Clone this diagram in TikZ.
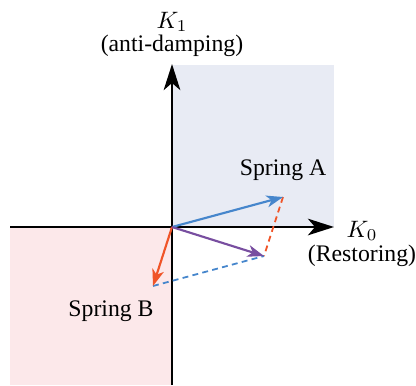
\documentclass[tikz,border=0pt]{standalone}
\usepackage{fontspec}
\setmainfont{Liberation Serif}
\usetikzlibrary{arrows.meta}
\usepackage{amsmath}
\usepackage{xcolor}

\definecolor{quadblue}{RGB}{232,235,244}
\definecolor{quadpink}{RGB}{252,232,234}
\definecolor{springa}{RGB}{70,134,204}
\definecolor{springb}{RGB}{240,84,40}
\definecolor{springsum}{RGB}{120,78,160}

\begin{document}
\begin{tikzpicture}[x=0.0148cm, y=-0.0148cm, font=\fontsize{10}{12}\selectfont]
\tikzstyle{axis} = [line width=0.9pt, -{Stealth[length=11pt, width=7pt, inset=3pt]}]
\tikzstyle{vec} = [line width=0.9pt, -{Stealth[length=7pt, width=5pt, inset=2pt]}]
\tikzstyle{guide} = [line width=0.75pt, dash pattern=on 2.5pt off 1.8pt]
\tikzstyle{lbl} = [inner sep=1pt]

\useasboundingbox (0,0) rectangle (416,385);

% quadrants
\fill [quadblue] (172,65) rectangle (334,227);
\fill [quadpink] (10,227) rectangle (172,385);

\coordinate (o) at (172,227);
\coordinate (xl) at (10,227);
\coordinate (xr) at (334,227);
\coordinate (yb) at (172,385);
\coordinate (yt) at (172,64);
\coordinate (a) at (283,197);
\coordinate (b) at (153,286);
\coordinate (s) at (264,256);

% axes
\draw [axis] (xl) -- (xr);
\draw [axis] (yb) -- (yt);

% dashed completion
\draw [guide, springb] (a) -- (s);
\draw [guide, springa] (b) -- (s);

% springs
\draw [vec, springa] (o) -- (a);
\draw [vec, springb] (o) -- (b);
\draw [vec, springsum] (o) -- (s);

% labels
\node (k1) [lbl] at (172,22) {$K_1$};
\node (k1txt) [lbl] at (172,46) {(anti-damping)};
\node (k0) [lbl] at (362,231) {$K_0$};
\node (k0txt) [lbl] at (362,256) {(Restoring)};
\node (sa) [lbl] at (283,170) {Spring A};
\node (sb) [lbl] at (111,311) {Spring B};
\end{tikzpicture}
\end{document}
